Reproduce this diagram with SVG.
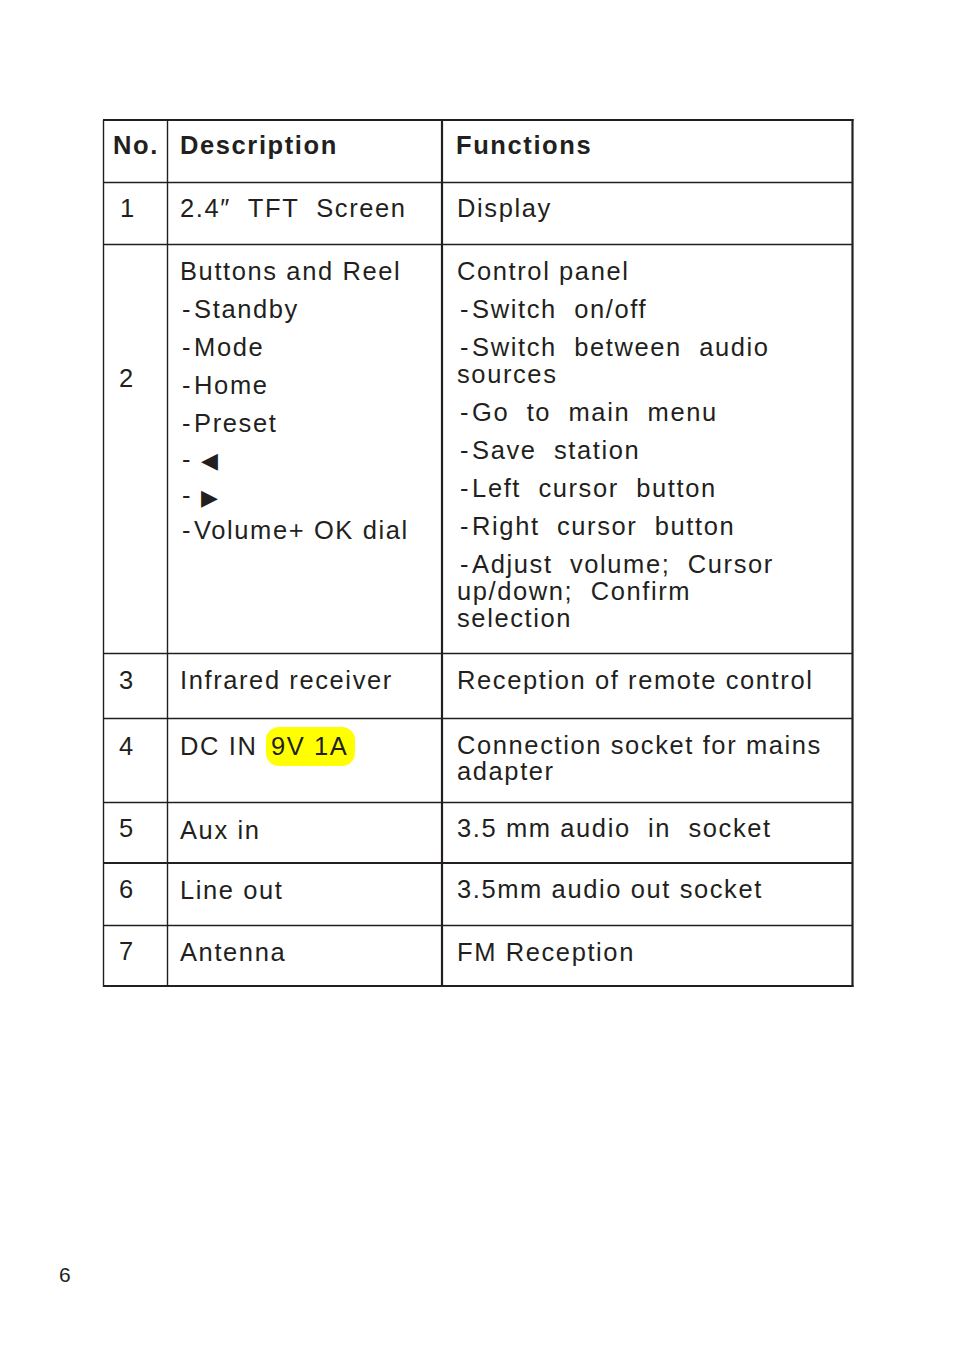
<svg xmlns="http://www.w3.org/2000/svg" width="954" height="1352" viewBox="0 0 954 1352">
<style>
text{font-family:"Liberation Sans",Arial,sans-serif;font-size:25.5px;fill:#231f20;letter-spacing:1.6px;white-space:pre}
.b{font-weight:bold;letter-spacing:1.6px}
.thin{stroke:#231f20;stroke-width:1.4;fill:none}
.thick{stroke:#231f20;stroke-width:2.2;fill:none}
.tri{font-family:"DejaVu Sans",sans-serif;font-size:22px;letter-spacing:0}
</style>
<rect width="954" height="1352" fill="#fff"/>
<g id="grid">
<line class="thin" x1="103.5" y1="120" x2="103.5" y2="987"/>
<line class="thin" x1="167.5" y1="120" x2="167.5" y2="987"/>
<line class="thick" x1="442" y1="120" x2="442" y2="987"/>
<line class="thick" x1="852.5" y1="119" x2="852.5" y2="987"/>
<line class="thick" x1="103" y1="120" x2="853.5" y2="120"/>
<line class="thin" x1="103" y1="182.5" x2="853" y2="182.5"/>
<line class="thin" x1="103" y1="244.5" x2="853" y2="244.5"/>
<line class="thin" x1="103" y1="653.5" x2="853" y2="653.5"/>
<line class="thin" x1="103" y1="718.5" x2="853" y2="718.5"/>
<line class="thin" x1="103" y1="802.5" x2="853" y2="802.5"/>
<line class="thick" x1="103" y1="863" x2="853" y2="863"/>
<line class="thin" x1="103" y1="925.5" x2="853" y2="925.5"/>
<line class="thick" x1="103" y1="986" x2="853.5" y2="986"/>
</g>
<g id="header" xml:space="preserve">
<text class="b" x="113" y="154">No.</text>
<text class="b" x="180" y="154">Description</text>
<text class="b" x="456" y="154">Functions</text>
</g>
<g id="row1" xml:space="preserve">
<text x="120" y="217">1</text>
<text x="180" y="217">2.4″  TFT  Screen</text>
<text x="457" y="217">Display</text>
</g>
<g id="row2" xml:space="preserve">
<text x="119" y="387">2</text>
<text x="180" y="280">Buttons and Reel</text>
<text x="182" y="318">-<tspan dx="2">Standby</tspan></text>
<text x="182" y="356">-<tspan dx="2">Mode</tspan></text>
<text x="182" y="394">-<tspan dx="2">Home</tspan></text>
<text x="182" y="432">-<tspan dx="2">Preset</tspan></text>
<text x="182" y="468">-</text>
<text class="tri" x="201" y="468">◀</text>
<text x="182" y="504">-</text>
<text class="tri" x="201" y="505">▶</text>
<text x="182" y="539">-<tspan dx="2">Volume+ OK dial</tspan></text>
<text x="457" y="280">Control panel</text>
<text x="460" y="318">-<tspan dx="2">Switch  on/off</tspan></text>
<text x="460" y="356">-<tspan dx="2">Switch  between  audio</tspan></text>
<text x="457" y="383">sources</text>
<text x="460" y="421">-<tspan dx="2">Go  to  main  menu</tspan></text>
<text x="460" y="459">-<tspan dx="2">Save  station</tspan></text>
<text x="460" y="497">-<tspan dx="2">Left  cursor  button</tspan></text>
<text x="460" y="535">-<tspan dx="2">Right  cursor  button</tspan></text>
<text x="460" y="573">-<tspan dx="2">Adjust  volume;  Cursor</tspan></text>
<text x="457" y="600">up/down;  Confirm</text>
<text x="457" y="627">selection</text>
</g>
<g id="row3" xml:space="preserve">
<text x="119" y="689">3</text>
<text x="180" y="689">Infrared receiver</text>
<text x="457" y="689">Reception of remote control</text>
</g>
<g id="row4" xml:space="preserve">
<text x="119" y="755">4</text>
<rect x="266" y="727" width="89" height="39" rx="13" fill="#ffff00"/>
<text x="180" y="755">DC IN</text>
<text x="271" y="755">9V 1A</text>
<text x="457" y="754">Connection socket for mains</text>
<text x="457" y="780">adapter</text>
</g>
<g id="row5" xml:space="preserve">
<text x="119" y="837">5</text>
<text x="180" y="839">Aux in</text>
<text x="457" y="837">3.5 mm audio  in  socket</text>
</g>
<g id="row6" xml:space="preserve">
<text x="119" y="898">6</text>
<text x="180" y="899">Line out</text>
<text x="457" y="898">3.5mm audio out socket</text>
</g>
<g id="row7" xml:space="preserve">
<text x="119" y="960">7</text>
<text x="180" y="961">Antenna</text>
<text x="457" y="961">FM Reception</text>
</g>
<text x="59" y="1282" style="font-size:21px;letter-spacing:0">6</text>
</svg>
